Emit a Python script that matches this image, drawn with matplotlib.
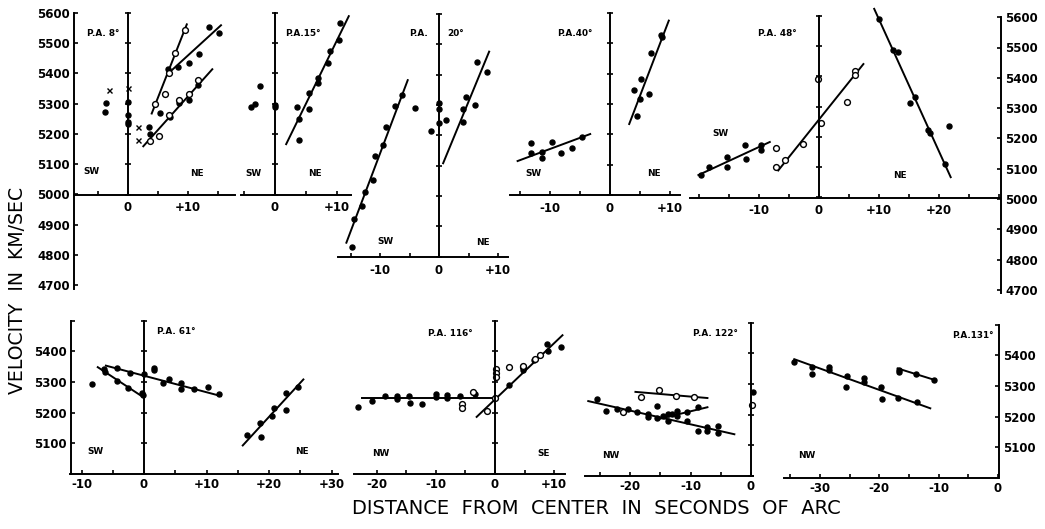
import math
import matplotlib
matplotlib.use("Agg")
import matplotlib.pyplot as plt
from matplotlib import font_manager

# velocities (km/s) against distance from centre (arcsec)

# P.A. 8
pa8_dot_x = [-3.9, -3.6, 0, 0, 0, 0, 3.55, 3.7, 5.3, 6.7, 7.0, 8.4, 8.55, 10.2, 10.2, 11.9, 11.7, 13.5, 15.2]
pa8_dot_v = [5272, 5303, 5305, 5262, 5240, 5232, 5221, 5201, 5270, 5415, 5256, 5421, 5302, 5435, 5313, 5462, 5360, 5553, 5531]
pa8_open_x = [3.7, 4.5, 5.2, 6.2, 6.9, 6.9, 7.8, 8.55, 9.5, 10.2, 11.7]
pa8_open_v = [5176, 5298, 5192, 5333, 5262, 5401, 5468, 5313, 5542, 5330, 5377]
pa8_cross_x = [-3.2, 0, 1.7, 1.7]
pa8_cross_v = [5344, 5352, 5221, 5181]
pa8_lines = [[3.95, 9.8, 5267, 5561], [6.7, 15.5, 5399, 5558], [2.55, 14.05, 5159, 5413]]

# P.A. 15
pa15_dot_x = [-3.8, -3.2, -2.4, 0, 0, 3.5, 3.9, 3.9, 5.5, 5.5, 6.9, 7.0, 8.5, 8.9, 10.3, 10.5]
pa15_dot_v = [5287, 5297, 5357, 5295, 5288, 5287, 5249, 5181, 5281, 5335, 5369, 5385, 5435, 5473, 5511, 5564]
pa15_lines = [[1.8, 11.9, 5166, 5588]]

# P.A. 20
pa20_dot_x = [-14.8, -14.4, -13.0, -12.5, -11.25, -10.8, -9.5, -9.0, -7.4, -6.25, -4.0, -1.4,
              0, 0, 0, 1.25, 4.1, 4.1, 4.5, 6.1, 6.4, 8.1]
pa20_dot_v = [4831, 4924, 4968, 5012, 5053, 5132, 5168, 5229, 5297, 5333, 5289, 5215,
              5308, 5286, 5242, 5251, 5286, 5245, 5325, 5300, 5443, 5410]
pa20_lines = [[-15.7, -5.3, 4846, 5382], [0.7, 8.5, 5108, 5476]]

# P.A. 40
pa40_dot_x = [-13.1, -13.1, -11.3, -11.3, -9.6, -8.2, -6.4, -4.7, 8.5, 8.7, 6.8, 5.2, 4.05, 5.0, 6.55, 4.45]
pa40_dot_v = [5172, 5137, 5142, 5123, 5174, 5137, 5156, 5192, 5528, 5520, 5468, 5382, 5347, 5316, 5332, 5261]
pa40_lines = [[-15.4, -3.3, 5112, 5201], [3.2, 9.8, 5234, 5575]]

# P.A. 48
pa48_dot_x = [-19.6, -18.3, -15.3, -15.3, -12.3, -12.2, -9.6, -9.6,
              10.05, 12.4, 13.2, 15.2, 16.0, 18.1, 18.5, 21.0, 21.7]
pa48_dot_v = [5074, 5100, 5132, 5102, 5174, 5127, 5174, 5156,
              5588, 5487, 5481, 5311, 5333, 5223, 5212, 5111, 5236]
pa48_open_x = [-7.1, -7.1, -5.7, -2.6, -0.2, 0.3, 4.6, 6.0, 6.0]
pa48_open_v = [5163, 5102, 5124, 5178, 5391, 5247, 5316, 5418, 5405]
pa48_lines = [[-20.1, -8.2, 5074, 5183], [-6.8, 7.4, 5089, 5440], [9.2, 21.95, 5622, 5067]]

# P.A. 61
pa61_dot_x = [-8.4, -6.4, -6.2, -4.4, -4.4, -2.2, -2.5, -0.4, -0.2, 0, 1.65, 1.65, 3.0, 4.05, 5.9, 5.9,
              8.0, 10.3, 12.0, 16.5, 18.6, 18.7, 20.4, 20.8, 22.7, 22.7, 24.7]
pa61_dot_v = [5294, 5343, 5332, 5346, 5302, 5330, 5281, 5265, 5256, 5327, 5346, 5338, 5297, 5310, 5295, 5278,
              5278, 5283, 5259, 5126, 5165, 5120, 5189, 5216, 5210, 5265, 5284]
pa61_lines = [[-6.1, 12.3, 5353, 5254], [-7.4, -0.1, 5348, 5250], [15.8, 25.5, 5093, 5308]]

# P.A. 116
pa116_dot_x = [-23.1, -20.7, -18.6, -16.5, -16.5, -14.5, -14.4, -12.3, -10.0, -10.0, -8.1, -8.1,
               -5.9, -3.4, 2.4, 4.8, 6.6, 8.85, 9.0, 11.1]
pa116_dot_v = [5219, 5238, 5254, 5254, 5243, 5254, 5232, 5227, 5261, 5252, 5256, 5247,
               5254, 5261, 5291, 5340, 5370, 5424, 5402, 5413]
pa116_open_x = [-5.6, -5.6, -3.8, -1.4, 0, 0.1, 0.1, 0.1, 2.4, 4.8, 4.8, 6.8, 7.6]
pa116_open_v = [5227, 5216, 5267, 5204, 5247, 5343, 5330, 5317, 5347, 5347, 5352, 5376, 5386]
pa116_lines = [[-22.4, 0, 5249, 5249], [-3.1, 11.4, 5186, 5452]]

# P.A. 122
pa122_dot_x = [-25.4, -23.9, -22.2, -20.4, -18.8, -17.1, -17.1, -15.5, -15.5, -14.6, -13.8, -13.8,
               -13.1, -12.2, -12.2, -10.5, -10.5, -8.7, -8.7, -7.2, -7.2, -5.4, -5.4, 0.3]
pa122_dot_v = [5252, 5213, 5219, 5219, 5210, 5191, 5202, 5228, 5188, 5194, 5202, 5178,
               5202, 5213, 5197, 5208, 5180, 5224, 5147, 5147, 5161, 5163, 5139, 5272]
pa122_open_x = [-21.1, -18.2, -15.2, -12.4, -9.5, 0.1]
pa122_open_v = [5208, 5258, 5280, 5261, 5258, 5230]
pa122_lines = [[-26.9, -2.75, 5244, 5136], [-19.1, -7.2, 5274, 5254], [-15.2, -7.2, 5186, 5224]]

# P.A. 131
pa131_dot_x = [-34.4, -31.3, -31.3, -28.5, -28.5, -25.4, -25.6, -22.6, -22.6, -19.7, -19.5, -16.9,
               -13.6, -16.7, -16.7, -13.8, -10.8]
pa131_dot_v = [5378, 5362, 5340, 5360, 5353, 5333, 5297, 5326, 5313, 5297, 5257, 5261,
               5246, 5351, 5344, 5340, 5319]
pa131_lines = [[-34.3, -11.4, 5387, 5227], [-16.9, -10.6, 5357, 5319]]

W, H = 1045, 529
fig = plt.figure(figsize=(W / 100, H / 100), dpi=100)

names = set(f.name for f in font_manager.fontManager.ttflist)
if "Liberation Sans Narrow" in names:
    txtfont, k = "Liberation Sans Narrow", 1.0
else:
    txtfont, k = "DejaVu Sans", 0.8
numfont = "DejaVu Sans"


def px_axes(x0, sx, xlim, y5000, sy, ylim):
    # place an axes so that its data units land on the pixel grid of the original
    left = x0 + xlim[0] * sx
    right = x0 + xlim[1] * sx
    top = y5000 - (ylim[1] - 5000) * sy
    bot = y5000 - (ylim[0] - 5000) * sy
    ax = fig.add_axes([left / W, 1 - bot / H, (right - left) / W, (bot - top) / H])
    ax.set_xlim(xlim)
    ax.set_ylim(ylim)
    ax.patch.set_visible(False)
    return ax


def lab(t):
    if t == 0:
        return "0"
    return ("+%d" % t) if t > 0 else ("-%d" % -t)


def panel(x0, sx, xlim, y5000, ylim, show, sy=0.3033, zero_axis=True, pad=5):
    ax = px_axes(x0, sx, xlim, y5000, sy, ylim)
    ax.spines["top"].set_visible(False)
    ax.spines["right"].set_visible(False)
    if zero_axis:
        ax.spines["left"].set_position(("data", 0))
    else:
        ax.spines["left"].set_visible(False)
    for s in ax.spines.values():
        s.set_linewidth(1.4)
    ticks = list(range(int(math.ceil(xlim[0] / 5.0)) * 5, int(xlim[1]) + 1, 5))
    ax.set_xticks(ticks)
    ax.set_xticklabels([lab(t) if t in show else "" for t in ticks],
                       fontfamily=numfont, fontweight="bold", fontsize=8.5)
    ax.tick_params(axis="x", direction="in", length=3, width=1.2, pad=pad)
    ax.set_yticks(range(int(ylim[0]), int(ylim[1]) + 1, 100))
    ax.tick_params(axis="y", direction="inout", length=5, width=1.2, labelleft=False,
                   left=zero_axis)
    return ax


def draw(ax, dx=None, dv=None, ox=None, ov=None, cx=None, cv=None, lines=()):
    for x1, x2, v1, v2 in lines:
        ax.plot([x1, x2], [v1, v2], color="black", lw=1.4, clip_on=False)
    if dx:
        ax.plot(dx, dv, "o", color="black", ms=3.6, clip_on=False)
    if ox:
        ax.plot(ox, ov, "o", mfc="white", mec="black", mew=1.0, ms=4.2, clip_on=False)
    if cx:
        ax.plot(cx, cv, "x", color="black", ms=3.6, mew=1.0, clip_on=False)


def frame_axis(x, y5000, sy, ylim, labels, side="left", tick_top=None):
    ax = px_axes(x, 1, (0, 1), y5000, sy, ylim)
    for s in ax.spines.values():
        s.set_visible(False)
    ax.spines[side].set_visible(True)
    ax.spines[side].set_linewidth(1.4)
    ax.set_xticks([])
    top = tick_top if tick_top else max(labels)
    ax.set_yticks(range(min(labels), top + 1, 100))
    ax.set_yticklabels([str(v) if v in labels else "" for v in range(min(labels), top + 1, 100)],
                       fontfamily=numfont, fontweight="bold", fontsize=8.5)
    if side == "right":
        ax.yaxis.tick_right()
    ax.tick_params(axis="y", direction="in", length=3, width=1.2, pad=3)
    return ax


# ---- top row ----
a = panel(128, 6.0, (-9, 17.8), 194.5, (5000, 5600), [0, 10])
draw(a, pa8_dot_x, pa8_dot_v, pa8_open_x, pa8_open_v, pa8_cross_x, pa8_cross_v, pa8_lines)
a = panel(275, 6.2, (-5.5, 12.2), 194.5, (5000, 5600), [0, 10])
draw(a, pa15_dot_x, pa15_dot_v, lines=pa15_lines)
a = panel(439, 5.9, (-17.2, 11.7), 196.0, (4800, 5600), [-10, 0, 10])
draw(a, pa20_dot_x, pa20_dot_v, lines=pa20_lines)
a = panel(610, 6.0, (-16.7, 11.7), 195.0, (5000, 5600), [-10, 0, 10])
draw(a, pa40_dot_x, pa40_dot_v, lines=pa40_lines)
a = panel(819, 6.0, (-21.5, 30.2), 197.5, (5000, 5600), [-10, 0, 10, 20])
draw(a, pa48_dot_x, pa48_dot_v, pa48_open_x, pa48_open_v, lines=pa48_lines)

frame_axis(74, 194.5, 0.3033, (4690, 5600), list(range(4700, 5601, 100)))
frame_axis(1000, 199.0, 0.303, (4690, 5600), list(range(4700, 5601, 100)), side="right")

# ---- bottom row ----
a = panel(144, 6.25, (-11.8, 31), 474.0, (5000, 5500), [-10, 0, 10, 20, 30], sy=0.307, pad=3)
draw(a, pa61_dot_x, pa61_dot_v, lines=pa61_lines)
a = panel(495, 5.92, (-23.8, 11.8), 474.0, (5000, 5500), [-20, -10, 0, 10], sy=0.307, pad=3)
draw(a, pa116_dot_x, pa116_dot_v, pa116_open_x, pa116_open_v, lines=pa116_lines)
a = panel(751, 6.05, (-27.4, 0.4), 476.0, (5000, 5500), [-20, -10, 0], sy=0.307, pad=3)
draw(a, pa122_dot_x, pa122_dot_v, pa122_open_x, pa122_open_v, lines=pa122_lines)
a = panel(998, 5.94, (-36, 0), 478.0, (5000, 5500), [-30, -20, -10, 0], sy=0.307,
          zero_axis=False, pad=3)
draw(a, pa131_dot_x, pa131_dot_v, lines=pa131_lines)

frame_axis(71, 474.0, 0.307, (5000, 5500), [5100, 5200, 5300, 5400], tick_top=5500)
frame_axis(998, 478.0, 0.307, (5000, 5500), [5100, 5200, 5300, 5400], side="right", tick_top=5500)


def ptext(x, y, s, size=8, **kw):
    fig.text(x / W, 1 - y / H, s, fontfamily=txtfont, fontweight="bold",
             fontsize=size * k, va="center", ha="left", **kw)


labels = [
    (87, 33, "P.A. 8°"), (83, 172, "SW"), (190, 173, "NE"),
    (285, 33, "P.A.15°"), (245, 173, "SW"), (308, 173, "NE"),
    (409, 33, "P.A."), (447, 33, "20°"), (377, 242, "SW"), (476, 243, "NE"),
    (557, 33, "P.A.40°"), (525, 173, "SW"), (647, 173, "NE"),
    (758, 33, "P.A. 48°"), (712, 134, "SW"), (893, 175, "NE"),
    (157, 332, "P.A. 61°"), (87, 452, "SW"), (295, 452, "NE"),
    (428, 333, "P.A. 116°"), (372, 453, "NW"), (537, 454, "SE"),
    (693, 334, "P.A. 122°"), (602, 456, "NW"),
    (952, 336, "P.A.131°"), (798, 455, "NW"),
]
for x, y, s in labels:
    ptext(x, y, s)

fig.text(18 / W, 1 - 290 / H, "VELOCITY  IN  KM/SEC", rotation=90, ha="center", va="center",
         fontfamily=txtfont, fontsize=17 * k)
fig.text(596 / W, 1 - 508 / H, "DISTANCE  FROM  CENTER  IN  SECONDS  OF  ARC", ha="center", va="center",
         fontfamily=txtfont, fontsize=17.5 * k)

fig.savefig("out.png", dpi=100)
